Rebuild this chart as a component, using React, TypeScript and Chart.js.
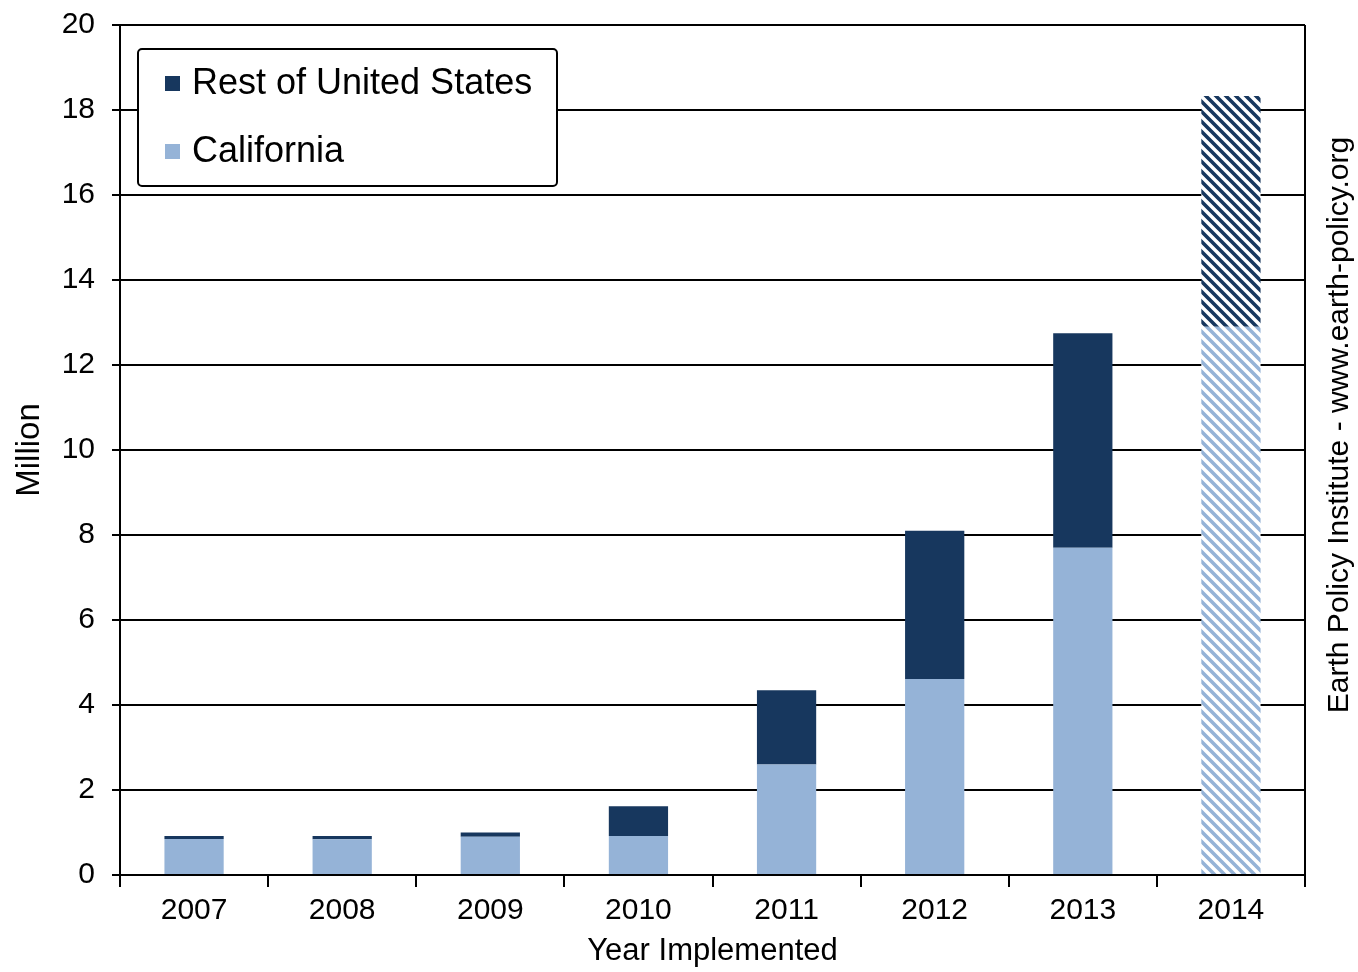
import React, { useEffect, useRef } from 'react';
import { Chart, registerables } from 'chart.js';

Chart.register(...registerables);

const categories = ['2007', '2008', '2009', '2010', '2011', '2012', '2013', '2014'];
const california = [0.85, 0.84, 0.9, 0.92, 2.6, 4.61, 7.7, 12.9];
const restOfUS = [0.07, 0.08, 0.1, 0.7, 1.75, 3.49, 5.05, 5.43];
const projectedYears = ['2014'];

const yTitle = 'Million';
const xTitle = 'Year Implemented';
const sideNote = 'Earth Policy Institute - www.earth-policy.org';
const legendLabels = ['Rest of United States', 'California'];

const FONT = "'Liberation Sans', Arial, sans-serif";
const DARK = '#17375E';
const LIGHT = '#95B3D7';

function makeHatch(color: string): CanvasPattern | string {
  const s = 10;
  const c = document.createElement('canvas');
  c.width = s;
  c.height = s;
  const x = c.getContext('2d');
  if (!x) return color;
  x.fillStyle = '#ffffff';
  x.fillRect(0, 0, s, s);
  x.strokeStyle = color;
  x.lineWidth = 3.6;
  x.beginPath();
  for (let k = -1; k <= 1; k++) {
    x.moveTo(-2, k * s - 2);
    x.lineTo(s + 2, s + k * s + 2);
  }
  x.stroke();
  const p = x.createPattern(c, 'repeat');
  return p || color;
}

export default function App() {
  const ref = useRef<HTMLCanvasElement>(null);

  useEffect(() => {
    document.body.style.margin = '0';
    const canvas = ref.current;
    if (!canvas) return;
    const ctx = canvas.getContext('2d');
    if (!ctx) return;

    const lightHatch = makeHatch(LIGHT);
    const darkHatch = makeHatch(DARK);
    const calColors = categories.map((c) => (projectedYears.includes(c) ? lightHatch : LIGHT));
    const restColors = categories.map((c) => (projectedYears.includes(c) ? darkHatch : DARK));

    const decorPlugin = {
      id: 'decor',
      afterDraw(chart: any) {
        const { ctx: g, chartArea } = chart;
        g.save();
        // right border
        g.strokeStyle = '#000';
        g.lineWidth = 2;
        g.beginPath();
        g.moveTo(chartArea.right, chartArea.top);
        g.lineTo(chartArea.right, chartArea.bottom);
        g.stroke();

        // legend box
        const lx = chartArea.left + 18;
        const ly = chartArea.top + 24;
        const lw = 419;
        const lh = 137;
        g.beginPath();
        if ((g as any).roundRect) (g as any).roundRect(lx, ly, lw, lh, 4);
        else g.rect(lx, ly, lw, lh);
        g.fillStyle = '#ffffff';
        g.fill();
        g.lineWidth = 2;
        g.strokeStyle = '#000';
        g.stroke();

        const colors = [DARK, LIGHT];
        g.font = `36px ${FONT}`;
        g.textBaseline = 'middle';
        g.textAlign = 'left';
        legendLabels.forEach((t, i) => {
          const cy = ly + 34 + i * 68;
          g.fillStyle = colors[i];
          g.fillRect(lx + 27, cy - 7, 15, 15);
          g.fillStyle = '#000';
          g.fillText(t, lx + 54, cy + 1);
        });

        // side note
        g.translate(chart.width - 18, 425);
        g.rotate(-Math.PI / 2);
        g.font = `30px ${FONT}`;
        g.textAlign = 'center';
        g.textBaseline = 'middle';
        g.fillStyle = '#000';
        g.fillText(sideNote, 0, 0);
        g.restore();
      },
    };

    const chart = new Chart(ctx, {
      type: 'bar',
      data: {
        labels: categories,
        datasets: [
          {
            label: legendLabels[1],
            data: california,
            backgroundColor: calColors as any,
            borderWidth: 0,
            barPercentage: 0.4,
            categoryPercentage: 1,
          },
          {
            label: legendLabels[0],
            data: restOfUS,
            backgroundColor: restColors as any,
            borderWidth: 0,
            barPercentage: 0.4,
            categoryPercentage: 1,
          },
        ],
      },
      options: {
        responsive: false,
        animation: false,
        layout: { padding: { top: 25, right: 53, left: 0, bottom: 0 } },
        plugins: {
          legend: { display: false },
          tooltip: { enabled: false },
          title: { display: false },
        },
        scales: {
          x: {
            stacked: true,
            offset: true,
            grid: {
              display: true,
              drawOnChartArea: false,
              drawTicks: true,
              tickLength: 12,
              color: '#000',
              lineWidth: 2,
              offset: true,
            },
            border: { display: true, color: '#000', width: 2 },
            ticks: {
              color: '#000',
              font: { family: FONT, size: 30 },
              padding: 6,
              maxRotation: 0,
            },
            title: {
              display: true,
              text: xTitle,
              color: '#000',
              font: { family: FONT, size: 31, lineHeight: 1 },
              padding: { top: 0, bottom: 5 },
            },
            afterFit: (s: any) => {
              s.height = 97;
              s.paddingLeft = 0;
              s.paddingRight = 0;
            },
          },
          y: {
            stacked: true,
            min: 0,
            max: 20,
            ticks: {
              stepSize: 2,
              color: '#000',
              font: { family: FONT, size: 30 },
              padding: 17,
            },
            grid: { color: '#000', lineWidth: 2, tickLength: 8 },
            border: { display: true, color: '#000', width: 2 },
            title: {
              display: true,
              text: yTitle,
              color: '#000',
              font: { family: FONT, size: 33, lineHeight: 1 },
              padding: { top: 13, bottom: 0 },
            },
            afterFit: (s: any) => {
              s.width = 120;
              s.paddingTop = 0;
              s.paddingBottom = 0;
            },
          },
        },
      } as any,
      plugins: [decorPlugin],
    });

    return () => chart.destroy();
  }, []);

  return <canvas ref={ref} width={1358} height={972} style={{ display: 'block' }} />;
}
